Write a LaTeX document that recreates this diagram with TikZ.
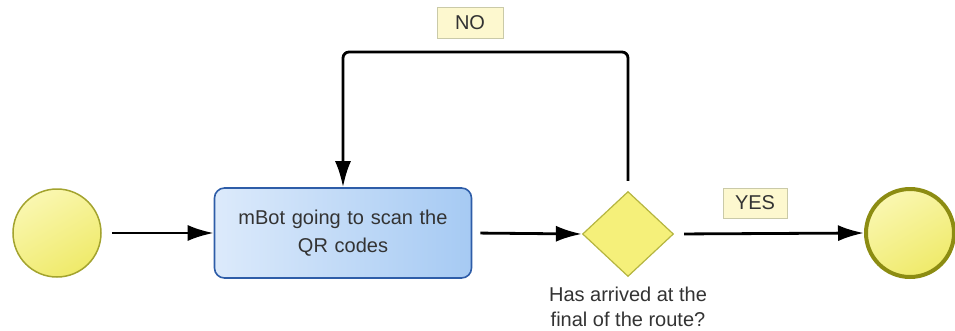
\documentclass[tikz,border=0pt]{standalone}
\usepackage{fontspec}
\setmainfont{Liberation Sans}
\usetikzlibrary{arrows.meta,shapes.geometric,positioning}

\definecolor{evline}{HTML}{A3A32E}
\definecolor{evend}{HTML}{8C8C12}
\definecolor{evfill}{HTML}{FAF7B0}
\definecolor{evfilldark}{HTML}{EFEA6A}
\definecolor{taskline}{HTML}{2E5DA8}
\definecolor{tasklight}{HTML}{DCEAFB}
\definecolor{taskdark}{HTML}{A6CAF3}
\definecolor{gwline}{HTML}{B5B540}
\definecolor{gwfill}{HTML}{F5F07A}
\definecolor{tagfill}{HTML}{FDF8CF}
\definecolor{tagline}{HTML}{CACAA8}
\definecolor{txt}{HTML}{333333}

\begin{document}
\begin{tikzpicture}[x=1pt,y=-1pt,
font=\fontsize{20}{25}\selectfont,
every node/.style={text=txt},
event/.style={circle,minimum size=88pt,inner sep=0pt,draw=evline,line width=1.5pt,
  top color=evfill,bottom color=evfilldark,shading angle=30},
endevent/.style={event,draw=evend,line width=4pt},
task/.style={rectangle,rounded corners=10pt,minimum width=257pt,minimum height=90pt,
  draw=taskline,line width=1.6pt,left color=tasklight,right color=taskdark,
  align=center,text width=230pt},
gateway/.style={diamond,minimum width=91pt,minimum height=85pt,inner sep=0pt,
  draw=gwline,line width=1.2pt,fill=gwfill},
tag/.style={rectangle,fill=tagfill,draw=tagline,line width=0.8pt,
  minimum width=66pt,minimum height=31pt,inner sep=0pt},
flow/.style={line width=2.8pt,-{Latex[length=26pt,width=16pt]}}]
\useasboundingbox (0,0) rectangle (955,330);

\node[event] (start) at (57,233) {};
\node[task] (scan) at (343,233) {mBot going to scan the\\[3pt]QR codes};
\node[gateway] (check) at (628,234) {};
\node[align=center,below=6pt of check,font=\fontsize{20}{25}\selectfont] (question)
  {Has arrived at the\\final of the route?};
\node[endevent] (stop) at (910,233) {};

\coordinate (loopr) at (628,52);
\coordinate (loopl) at (343,52);

\node[tag] (no) at (470,23) {NO};
\node[tag,minimum width=64pt,minimum height=30pt] (yes) at (755,203) {YES};

\draw[flow,shorten <=10pt] (start.east) -- (scan.west);
\draw[flow,shorten <=8pt] (scan.east) -- (check.west);
\draw[flow,shorten <=10pt] (check.east) -- (stop.west);
\draw[flow,rounded corners=6pt] ([yshift=10pt]check.north) -- (loopr) -- (loopl) -- (scan.north);
\end{tikzpicture}
\end{document}
